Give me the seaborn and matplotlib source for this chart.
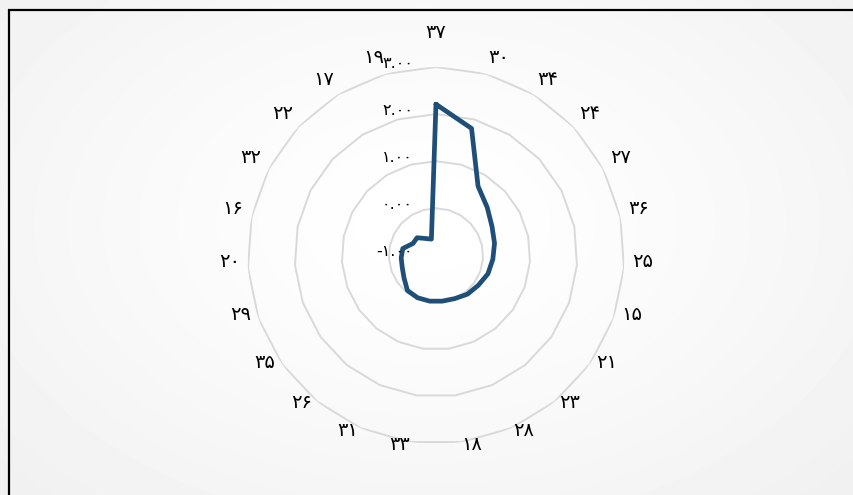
import numpy as np
import pandas as pd
import matplotlib
matplotlib.use('Agg')
import matplotlib.pyplot as plt
import seaborn as sns
from matplotlib import transforms
from matplotlib.patches import Rectangle

# categories, clockwise from the top
categories = ['۳۷', '۳۰', '۳۴', '۲۴', '۲۷', '۳۶', '۲۵', '۱۵', '۲۱', '۲۳', '۲۸', '۱۸',
              '۳۳', '۳۱', '۲۶', '۳۵', '۲۹', '۲۰', '۱۶', '۳۲', '۲۲', '۱۷', '۱۹']
values = [2.21, 1.80, 0.72, 0.49, 0.34, 0.27, 0.21, 0.17, 0.10, 0.06, 0.00, -0.02,
          -0.02, -0.02, -0.04, -0.17, -0.24, -0.26, -0.28, -0.45, -0.45, -0.58, -0.64]
ring_values = [-1, 0, 1, 2, 3]
ring_labels = ['-۱.۰۰', '۰.۰۰', '۱.۰۰', '۲.۰۰', '۳.۰۰']

sns.set_theme(style='white')
plt.rcParams['font.family'] = ['DejaVu Sans']

fig = plt.figure(figsize=(8.54, 4.95), dpi=100)

# soft gray background, lighter in the middle
bg = fig.add_axes([0, 0, 1, 1], zorder=-10)
yy, xx = np.mgrid[0:1:495j, 0:1:854j]
d = np.sqrt(((xx - 0.5) / 0.65) ** 2 + ((yy - 0.45) / 0.75) ** 2)
shade = 1 - 0.055 * np.clip(d, 0, 1) ** 1.3
bg.imshow(shade, cmap='gray', vmin=0, vmax=1, aspect='auto', interpolation='bilinear')
bg.axis('off')

ax = fig.add_axes([0.2899, 0.1034, 0.4412, 0.7612], projection='polar', zorder=1)
ax.patch.set_alpha(0)
ax.set_theta_zero_location('N')
ax.set_theta_direction(-1)

n = len(categories)
theta = np.linspace(0, 2 * np.pi, n, endpoint=False)
theta_c = np.append(theta, theta[0])

# polygon gridlines
for v in ring_values[1:]:
    ax.plot(theta_c, [v] * (n + 1), color='#d9d9d9', lw=1.4, zorder=1)

df = pd.DataFrame({'theta': theta_c, 'value': values + values[:1]})
sns.lineplot(data=df, x='theta', y='value', sort=False, estimator=None, ax=ax,
             color='#1f4e79', lw=3.4, zorder=3)

ax.set_ylim(-1, 3)
ax.grid(False)
ax.spines['polar'].set_visible(False)
ax.set_xticks([])
ax.set_yticks([])
ax.set_xlabel('')
ax.set_ylabel('')

# category labels around the chart (pixel offsets from the centre)
r_lab, side_pad, lift, top_extra = 198, 9, 7, 18
for i, (t, c) in enumerate(zip(theta, categories)):
    s = np.sin(t)
    dx = r_lab * s + side_pad * (np.sign(s) if abs(s) > 1e-9 else 0)
    dy = lift + r_lab * np.cos(t) + (top_extra if i == 0 else 0)
    tr = transforms.offset_copy(ax.transAxes, fig=fig, x=dx, y=dy, units='dots')
    ax.text(0.5, 0.5, c, transform=tr, ha='center', va='center',
            fontsize=14, color='black', clip_on=False)

# value labels
val_trans = transforms.offset_copy(ax.transData, fig=fig, x=-23, y=4, units='dots')
for v, s in zip(ring_values, ring_labels):
    ax.text(0, v, s, transform=val_trans, ha='right', va='center',
            fontsize=11.5, color='black', clip_on=False)

# frame around the chart area
fig.add_artist(Rectangle((8.5 / 854, -0.5), 2, 0.5 + 1 - 10 / 495,
                         transform=fig.transFigure, fill=False,
                         ec='black', lw=1.6, zorder=5))

fig.savefig('out.png', dpi=100)
